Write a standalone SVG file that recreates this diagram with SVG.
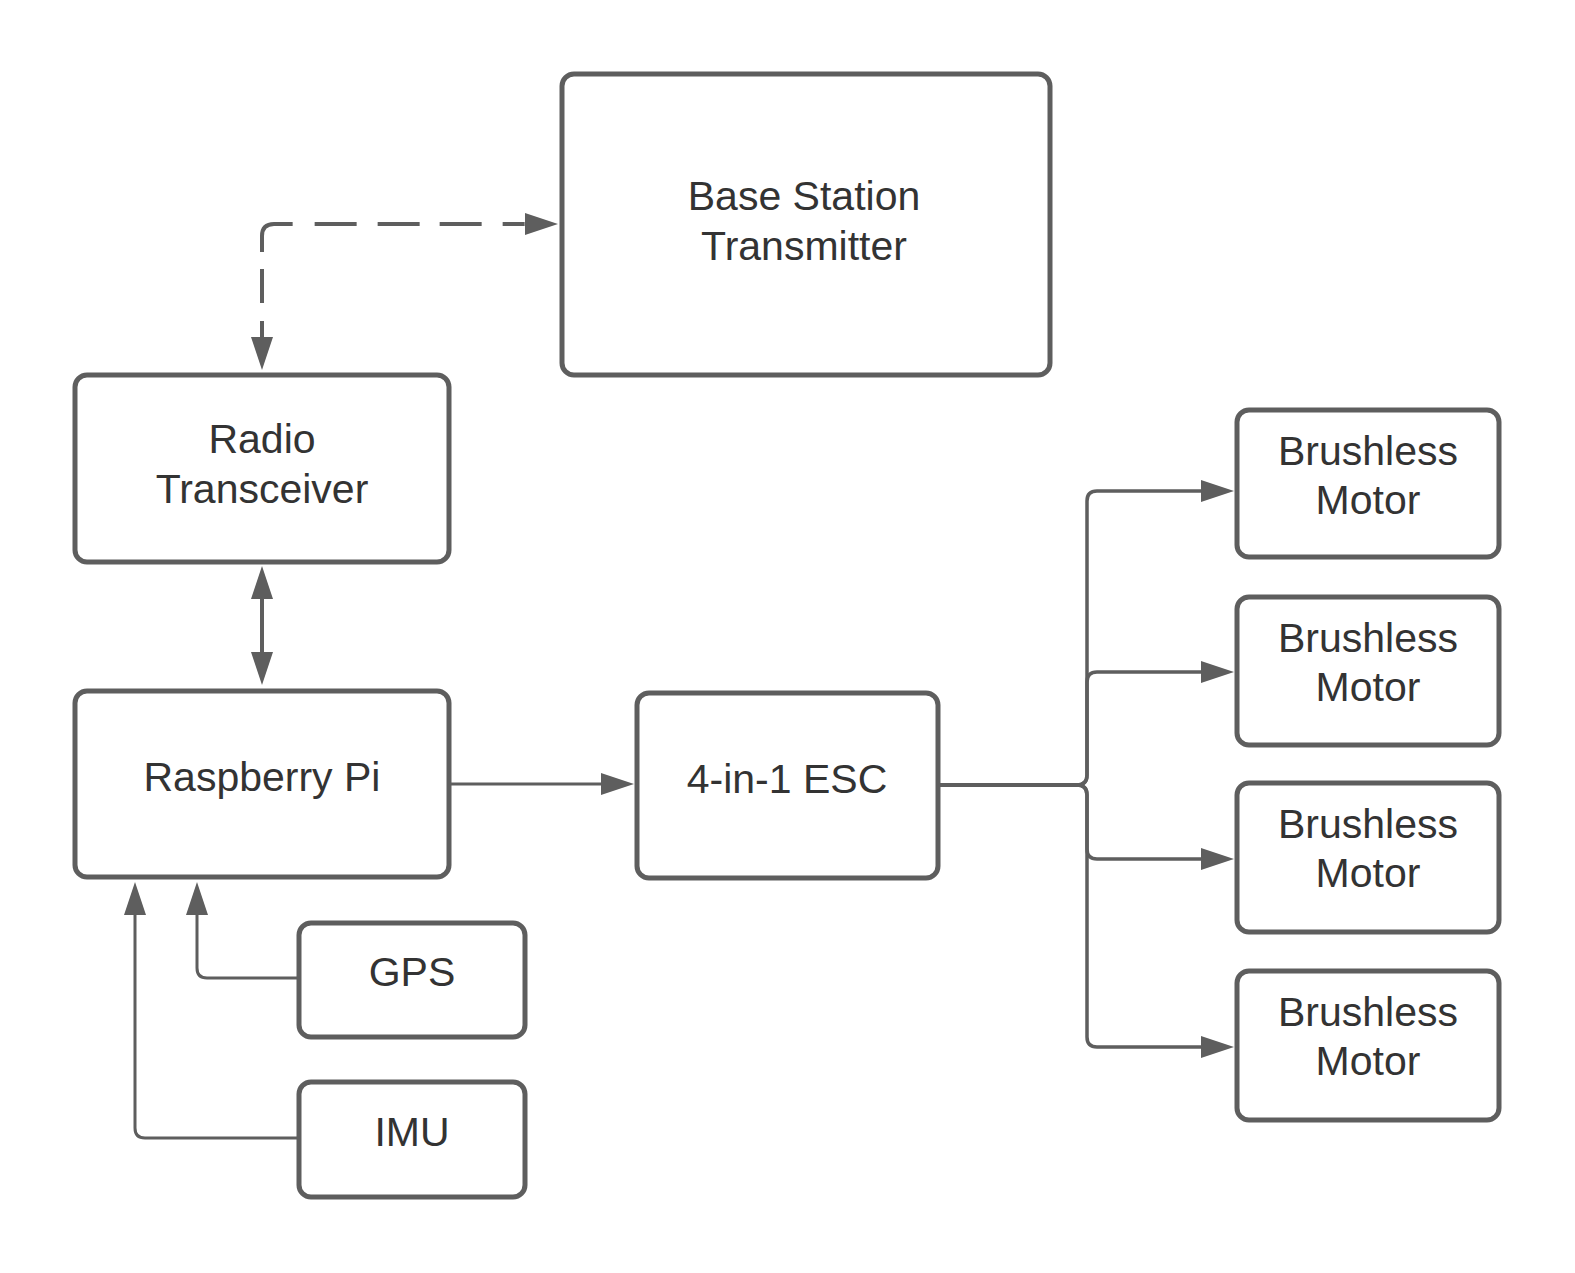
<svg xmlns="http://www.w3.org/2000/svg" width="1575" height="1273" viewBox="0 0 1575 1273">
<defs>
<style>
.box{fill:#ffffff;stroke:#5e5e5e;stroke-width:5}
.lbl{font-family:"Liberation Sans",Arial,sans-serif;font-size:41px;fill:#333333;text-anchor:middle}
.con{fill:none;stroke:#5e5e5e;stroke-width:3.5;stroke-linejoin:round}
.dash{stroke-dasharray:16 18 34 17 54 22 42 21 42 20 42 21 22 100;stroke-width:4}
</style>
<marker id="ah" markerUnits="userSpaceOnUse" viewBox="0 0 33 22" refX="0" refY="11" markerWidth="33" markerHeight="22" orient="auto-start-reverse">
<path d="M0,0 L33,11 L0,22 Z" fill="#5e5e5e"/>
</marker>
</defs>
<rect width="1575" height="1273" fill="#ffffff"/>
<g id="connectors">
<path class="con dash" d="M262,337 L262,236 Q262,224 274,224 L525,224" marker-start="url(#ah)" marker-end="url(#ah)"/>
<path class="con" style="stroke-width:4" d="M262,599 L262,652" marker-start="url(#ah)" marker-end="url(#ah)"/>
<path class="con" style="stroke-width:3" d="M451,784 L601,784" marker-end="url(#ah)"/>
<path class="con" d="M940,785 L1077,785 Q1087,785 1087,775 L1087,501 Q1087,491 1097,491 L1201,491" marker-end="url(#ah)"/>
<path class="con" d="M940,785 L1077,785 Q1087,785 1087,775 L1087,682 Q1087,672 1097,672 L1201,672" marker-end="url(#ah)"/>
<path class="con" d="M940,785 L1077,785 Q1087,785 1087,795 L1087,849 Q1087,859 1097,859 L1201,859" marker-end="url(#ah)"/>
<path class="con" d="M940,785 L1077,785 Q1087,785 1087,795 L1087,1037 Q1087,1047 1097,1047 L1201,1047" marker-end="url(#ah)"/>
<path class="con" style="stroke-width:3" d="M297,978 L207,978 Q197,978 197,968 L197,915" marker-end="url(#ah)"/>
<path class="con" style="stroke-width:3" d="M297,1138 L145,1138 Q135,1138 135,1128 L135,915" marker-end="url(#ah)"/>
</g>
<g id="base-station">
<rect class="box" x="562" y="74" width="488" height="301" rx="12"/>
<text class="lbl" x="804" y="210">Base Station</text>
<text class="lbl" x="804" y="260">Transmitter</text>
</g>
<g id="radio">
<rect class="box" x="75" y="375" width="374" height="187" rx="12"/>
<text class="lbl" x="262" y="453">Radio</text>
<text class="lbl" x="262" y="503">Transceiver</text>
</g>
<g id="raspberry-pi">
<rect class="box" x="75" y="691" width="374" height="186" rx="12"/>
<text class="lbl" x="262" y="791">Raspberry Pi</text>
</g>
<g id="esc">
<rect class="box" x="637" y="693" width="301" height="185" rx="12"/>
<text class="lbl" x="787" y="793">4-in-1 ESC</text>
</g>
<g id="gps">
<rect class="box" x="299" y="923" width="226" height="114" rx="12"/>
<text class="lbl" x="412" y="986">GPS</text>
</g>
<g id="imu">
<rect class="box" x="299" y="1082" width="226" height="115" rx="12"/>
<text class="lbl" x="412" y="1146">IMU</text>
</g>
<g id="motor1">
<rect class="box" x="1237" y="410" width="262" height="147" rx="12"/>
<text class="lbl" x="1368" y="465">Brushless</text>
<text class="lbl" x="1368" y="514">Motor</text>
</g>
<g id="motor2">
<rect class="box" x="1237" y="597" width="262" height="148" rx="12"/>
<text class="lbl" x="1368" y="652">Brushless</text>
<text class="lbl" x="1368" y="701">Motor</text>
</g>
<g id="motor3">
<rect class="box" x="1237" y="783" width="262" height="149" rx="12"/>
<text class="lbl" x="1368" y="838">Brushless</text>
<text class="lbl" x="1368" y="887">Motor</text>
</g>
<g id="motor4">
<rect class="box" x="1237" y="971" width="262" height="149" rx="12"/>
<text class="lbl" x="1368" y="1026">Brushless</text>
<text class="lbl" x="1368" y="1075">Motor</text>
</g>
</svg>
